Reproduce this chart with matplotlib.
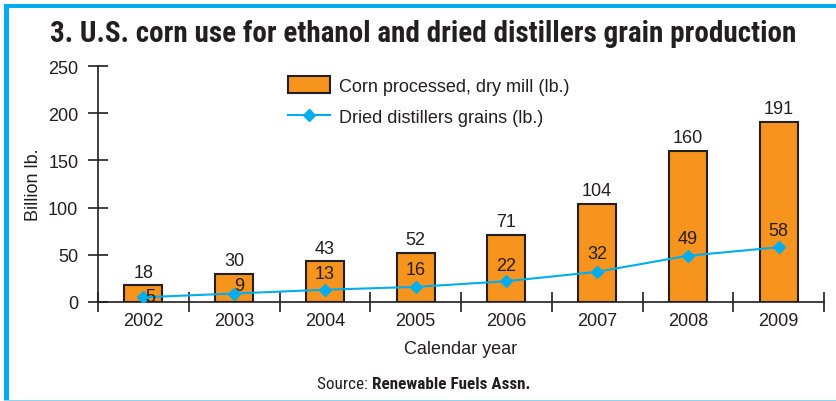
import matplotlib
matplotlib.use('Agg')
import matplotlib.pyplot as plt
from matplotlib.patches import Rectangle, Patch
from matplotlib.lines import Line2D
import numpy as np

years = ['2002', '2003', '2004', '2005', '2006', '2007', '2008', '2009']
corn_processed = [18, 30, 43, 52, 71, 104, 160, 191]
distillers_grains = [5, 9, 13, 16, 22, 32, 49, 58]

ORANGE = '#F7941D'
BLUE = '#00AEEF'
DARK = '#231F20'
NARROW = ['Roboto Condensed', 'DejaVu Sans']

plt.rcParams['font.family'] = ['Liberation Sans', 'DejaVu Sans']

W, H = 836, 402
fig = plt.figure(figsize=(W / 100, H / 100), dpi=100)

# blue frame (left + top), light line at bottom
fig.patches.append(Rectangle((4 / W, 0), 5 / W, (H - 5) / H, transform=fig.transFigure,
                             color=BLUE, lw=0))
fig.patches.append(Rectangle((4 / W, (H - 9) / H), 1 - 4 / W, 4 / H, transform=fig.transFigure,
                             color=BLUE, lw=0))
fig.patches.append(Rectangle((4 / W, 0), 1 - 4 / W, 1.5 / H, transform=fig.transFigure,
                             color='#8FD3F0', lw=0))

fig.text(50 / W, 1 - 34 / H, '3. U.S. corn use for ethanol and dried distillers grain production',
         family=NARROW, fontweight='bold', fontsize=21, color=DARK, va='center', ha='left')

ax = fig.add_axes([98 / W, 99 / H, 726 / W, 236 / H])
x = np.arange(len(years))

ax.bar(x, corn_processed, width=0.42, color=ORANGE, edgecolor=DARK, linewidth=1.5, zorder=2)
ax.plot(x, distillers_grains, color=BLUE, lw=1.5, marker='D', markersize=6.5, zorder=3)

for xi, v in zip(x, corn_processed):
    ax.annotate(str(v), (xi, v), xytext=(0, 13), textcoords='offset pixels',
                ha='center', va='center', fontsize=13, color=DARK)

# label offsets (pixels) for the distillers grains values
grain_dx = [7, 5, 0, 0, 0, 0, 0, 0]
grain_dy = [1, 8, 16, 17, 16, 18, 17, 17]
for xi, v, dx, dy in zip(x, distillers_grains, grain_dx, grain_dy):
    ax.annotate(str(v), (xi, v), xytext=(dx, dy), textcoords='offset pixels',
                ha='center', va='center', fontsize=13, color=DARK, zorder=4)

ax.set_xlim(-0.5, len(years) - 0.5)
ax.set_ylim(0, 250)
ax.set_yticks(np.arange(0, 251, 50))
ax.set_xticks(x)
ax.set_xticklabels(years)
ax.set_xticks(np.arange(-0.5, len(years), 1), minor=True)
ax.tick_params(axis='x', which='major', length=0, pad=7, labelsize=13, colors=DARK)
ax.tick_params(axis='x', which='minor', direction='inout', length=14.4, width=1.2, color=DARK)
ax.tick_params(axis='y', direction='inout', length=14.4, width=1.2, color=DARK,
               labelsize=13, labelcolor=DARK, pad=7)

for s in ['top', 'right']:
    ax.spines[s].set_visible(False)
for s in ['left', 'bottom']:
    ax.spines[s].set_color(DARK)
    ax.spines[s].set_linewidth(1.2)
ax.spines['left'].set_bounds(0, 250)

ax.set_xlabel('Calendar year', fontsize=13, color=DARK, labelpad=8)
ax.set_ylabel('Billion lb.', fontsize=13, color=DARK, labelpad=4)

handles = [Patch(facecolor=ORANGE, edgecolor=DARK, linewidth=1.5),
           Line2D([], [], color=BLUE, lw=1.5, marker='D', markersize=6.5)]
ax.legend(handles, ['Corn processed, dry mill (lb.)', 'Dried distillers grains (lb.)'],
          loc='upper left', bbox_to_anchor=(288 / W, 1 - 77 / H), bbox_transform=fig.transFigure,
          frameon=False, fontsize=13, handlelength=2.3, handleheight=1.1,
          labelspacing=0.7, handletextpad=0.55, borderpad=0, borderaxespad=0,
          labelcolor=DARK)

src = fig.text(317 / W, 1 - 385 / H, 'Source: ', family=NARROW, fontsize=12.3, color=DARK,
               va='center', ha='left')
fig.canvas.draw()
bb = src.get_window_extent()
fig.text(bb.x1 / W, 1 - 385 / H, 'Renewable Fuels Assn.', family=NARROW, fontsize=12.3,
         fontweight='bold', color=DARK, va='center', ha='left')

fig.savefig('out.png', dpi=100)
